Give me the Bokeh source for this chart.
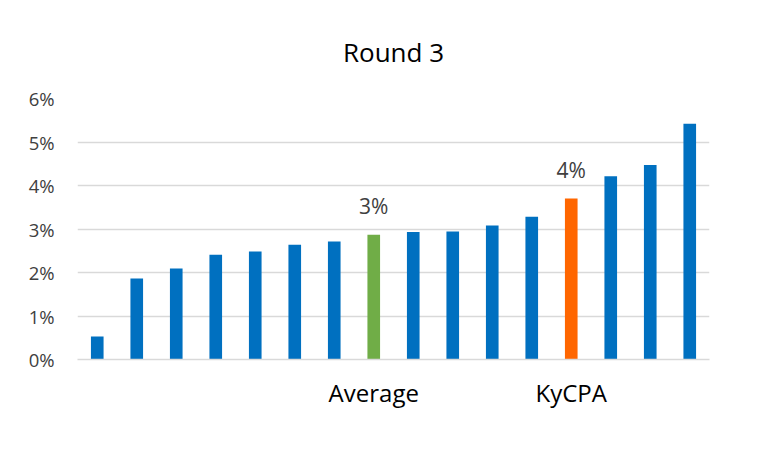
from bokeh.plotting import figure
from bokeh.models import Range1d, FixedTicker, PrintfTickFormatter, ColumnDataSource
from bokeh.core.properties import value
from bokeh.embed import file_html
from bokeh.resources import INLINE

# ---- data ----
positions = list(range(1, 17))
values = [0.53, 1.86, 2.09, 2.41, 2.48, 2.64, 2.71, 2.87,
          2.93, 2.94, 3.08, 3.28, 3.70, 4.21, 4.47, 5.42]
category_ticks = [8, 13]
category_labels = ["Average", "KyCPA"]
highlight_colors = {8: "#70AD47", 13: "#FF6600"}
base_color = "#0070C0"
data_label_positions = [8, 13]
data_label_texts = ["3%", "4%"]
y_ticks = [0, 1, 2, 3, 4, 5, 6]
title_text = "Round 3"

FONT = "Open Sans"

bar_colors = [highlight_colors.get(x, base_color) for x in positions]
src = ColumnDataSource(dict(x=positions, top=values, color=bar_colors))

label_values = [values[positions.index(x)] for x in data_label_positions]
lab_src = ColumnDataSource(dict(x=data_label_positions, y=label_values, text=data_label_texts))

p = figure(width=747, height=448,
           x_range=Range1d(0.5, 16.5), y_range=Range1d(0, 6),
           output_backend="svg", toolbar_location=None,
           min_border_left=77, min_border_right=38,
           min_border_top=98, min_border_bottom=89)
p.outline_line_color = None
p.background_fill_color = "white"
p.border_fill_color = "white"

p.title.text = title_text
p.title.align = "center"
p.title.text_font = FONT
p.title.text_font_size = "26px"
p.title.text_font_style = "normal"
p.title.text_color = "#000000"
p.title.standoff = 58

p.vbar(x="x", top="top", width=0.32, color="color", line_color=None, source=src)

p.text(x="x", y="y", text="text", source=lab_src,
       text_align="center", text_baseline="alphabetic", y_offset=-29,
       text_font=value(FONT), text_font_size="21px", text_color="#404040")

# grid
p.xgrid.visible = False
p.ygrid.ticker = FixedTicker(ticks=y_ticks)
p.ygrid.grid_line_color = "#d9d9d9"
p.ygrid.grid_line_width = 1.3

# y axis
ya = p.yaxis[0]
ya.ticker = FixedTicker(ticks=y_ticks)
ya.formatter = PrintfTickFormatter(format="%d%%")
ya.axis_line_color = None
ya.major_tick_line_color = None
ya.minor_tick_line_color = None
ya.major_label_standoff = 17
ya.major_label_text_font = FONT
ya.major_label_text_font_size = "18.5px"
ya.major_label_text_color = "#404040"

# x axis
xa = p.xaxis[0]
xa.ticker = FixedTicker(ticks=category_ticks)
xa.major_label_overrides = {t: l for t, l in zip(category_ticks, category_labels)}
xa.axis_line_color = "#d9d9d9"
xa.axis_line_width = 1.3
xa.major_tick_line_color = None
xa.minor_tick_line_color = None
xa.major_label_standoff = 10
xa.major_label_text_font = FONT
xa.major_label_text_font_size = "24px"
xa.major_label_text_color = "#000000"

open("out.html", "w").write(file_html(p, INLINE))
